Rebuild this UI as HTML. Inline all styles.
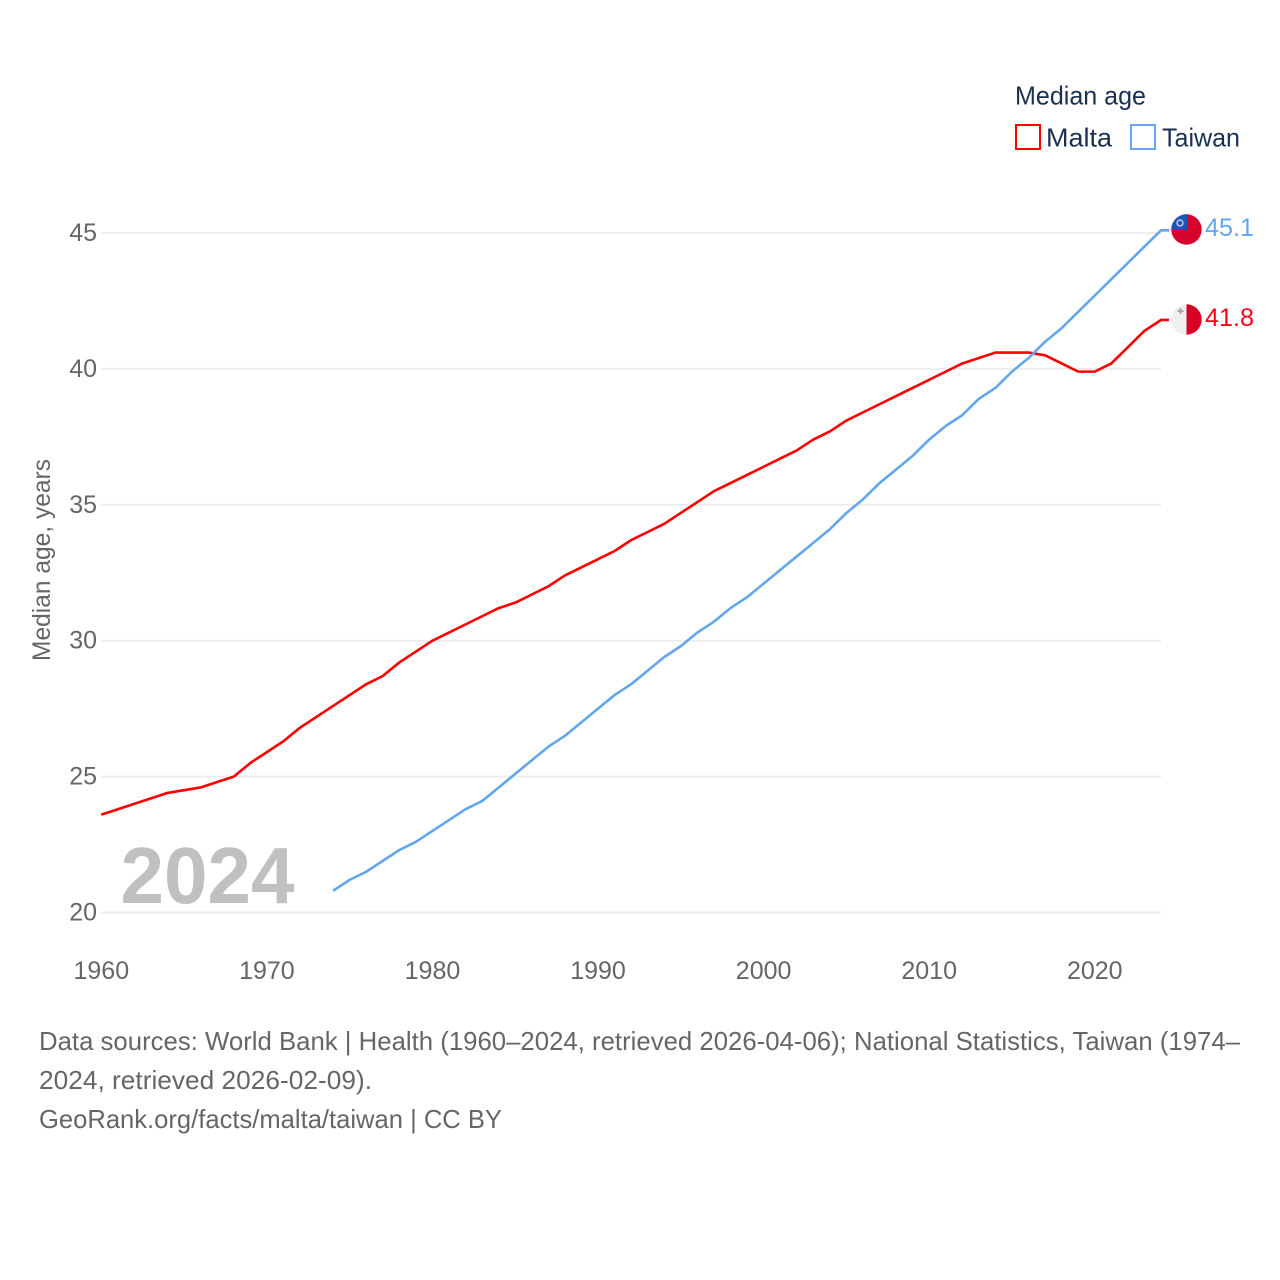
<!DOCTYPE html>
<html lang="en">
<head>
<meta charset="utf-8">
<title>Median age: Malta and Taiwan</title>
<style>
html,body{margin:0;padding:0;background:#fff;}
svg{display:block;}
text{font-family:"Liberation Sans",sans-serif;}
</style>
</head>
<body>
<svg id="chart" xmlns="http://www.w3.org/2000/svg" width="1280" height="1280" viewBox="0 0 1280 1280">
  <rect x="0" y="0" width="1280" height="1280" fill="#fff"/>
  <g id="grid"></g>
  <g id="yticks"></g>
  <g id="xticks"></g>
  <text transform="translate(50,661) rotate(-90)" font-size="25" fill="#666" textLength="202" lengthAdjust="spacingAndGlyphs">Median age, years</text>
  <text x="120.5" y="903" font-size="80" font-weight="700" fill="#c0c0c0" textLength="174" lengthAdjust="spacingAndGlyphs">2024</text>
  <g id="series"></g>

  <defs>
    <clipPath id="clip-taiwan"><circle cx="1186.5" cy="229.5" r="15.2"/></clipPath>
    <clipPath id="clip-malta"><circle cx="1186.5" cy="319.5" r="15.2"/></clipPath>
  </defs>
  <g clip-path="url(#clip-taiwan)">
    <rect x="1171" y="214" width="31" height="31" fill="#d9042b"/>
    <rect x="1171" y="214" width="16" height="16" fill="#1c55b5"/>
    <circle cx="1180" cy="223" r="3" fill="none" stroke="#dfe8f6" stroke-width="1.2"/>
  </g>
  <g clip-path="url(#clip-malta)">
    <rect x="1171" y="304" width="15.5" height="31" fill="#efefef"/>
    <rect x="1186.5" y="304" width="15.5" height="31" fill="#d80027"/>
    <path d="M1180.5 308v6M1177.5 311h6" stroke="#a8a8a8" stroke-width="2" fill="none"/>
  </g>
  <text x="1205" y="236" font-size="25" fill="#63a6ee" textLength="49" lengthAdjust="spacingAndGlyphs">45.1</text>
  <text x="1205" y="326" font-size="25" fill="#ff0019" textLength="49" lengthAdjust="spacingAndGlyphs">41.8</text>

  <text x="1015" y="104.5" font-size="26" fill="#1a3052" textLength="131" lengthAdjust="spacingAndGlyphs">Median age</text>
  <g>
    <rect x="1016" y="125" width="24" height="24" fill="none" stroke="#ff0000" stroke-width="2"/>
    <text x="1046" y="146.5" font-size="26" fill="#1a3052" textLength="66" lengthAdjust="spacingAndGlyphs">Malta</text>
  </g>
  <g>
    <rect x="1131" y="125" width="24" height="24" fill="none" stroke="#63a6ee" stroke-width="2"/>
    <text x="1162" y="146.5" font-size="26" fill="#1a3052" textLength="78" lengthAdjust="spacingAndGlyphs">Taiwan</text>
  </g>

  <g font-size="26" fill="#666">
    <text x="39" y="1050" textLength="1201" lengthAdjust="spacingAndGlyphs">Data sources: World Bank | Health (1960–2024, retrieved 2026-04-06); National Statistics, Taiwan (1974–</text>
    <text x="39" y="1089" textLength="333" lengthAdjust="spacingAndGlyphs">2024, retrieved 2026-02-09).</text>
    <text x="39" y="1128" textLength="463" lengthAdjust="spacingAndGlyphs">GeoRank.org/facts/malta/taiwan | CC BY</text>
  </g>
</svg>
<script>
const maltaStartYear = 1960;
const maltaValues = [23.6,23.8,24.0,24.2,24.4,24.5,24.6,24.8,25.0,25.5,25.9,26.3,26.8,27.2,27.6,28.0,28.4,28.7,29.2,29.6,30.0,30.3,30.6,30.9,31.2,31.4,31.7,32.0,32.4,32.7,33.0,33.3,33.7,34.0,34.3,34.7,35.1,35.5,35.8,36.1,36.4,36.7,37.0,37.4,37.7,38.1,38.4,38.7,39.0,39.3,39.6,39.9,40.2,40.4,40.6,40.6,40.6,40.5,40.2,39.9,39.9,40.2,40.8,41.4,41.8];
const taiwanStartYear = 1974;
const taiwanValues = [20.8,21.2,21.5,21.9,22.3,22.6,23.0,23.4,23.8,24.1,24.6,25.1,25.6,26.1,26.5,27.0,27.5,28.0,28.4,28.9,29.4,29.8,30.3,30.7,31.2,31.6,32.1,32.6,33.1,33.6,34.1,34.7,35.2,35.8,36.3,36.8,37.4,37.9,38.3,38.9,39.3,39.9,40.4,41.0,41.5,42.1,42.7,43.3,43.9,44.5,45.1];
const yTickValues = [20,25,30,35,40,45];
const xTickYears = [1960,1970,1980,1990,2000,2010,2020];

const NS = 'http://www.w3.org/2000/svg';
function xScale(year){ return 101.3 + (year - 1960) * (1161 - 101.3) / 64; }
function yScale(v){ return 912.5 - (v - 20) * (912.5 - 233) / 25; }

const grid = document.getElementById('grid');
const yticks = document.getElementById('yticks');
const xticks = document.getElementById('xticks');
const seriesGroup = document.getElementById('series');

yTickValues.forEach(function(v){
  const line = document.createElementNS(NS, 'line');
  
  
  line.setAttribute('x1', xScale(1960));
  line.setAttribute('x2', xScale(2024));
  line.setAttribute('y1', yScale(v));
  line.setAttribute('y2', yScale(v));
  line.setAttribute('stroke', '#ededed');
  line.setAttribute('stroke-width', '2');
  grid.appendChild(line);

  const label = document.createElementNS(NS, 'text');
  
  
  label.setAttribute('x', 97);
  label.setAttribute('y', yScale(v) + 8);
  label.setAttribute('text-anchor', 'end');
  label.setAttribute('font-size', '25');
  label.setAttribute('fill', '#666');
  label.textContent = v;
  yticks.appendChild(label);
});

xTickYears.forEach(function(year){
  const label = document.createElementNS(NS, 'text');
  
  
  label.setAttribute('x', xScale(year));
  label.setAttribute('y', 979);
  label.setAttribute('text-anchor', 'middle');
  label.setAttribute('font-size', '25');
  label.setAttribute('fill', '#666');
  label.textContent = year;
  xticks.appendChild(label);
});

function pathFor(startYear, values){
  const pts = values.map(function(v, i){
    return xScale(startYear + i).toFixed(2) + ',' + yScale(v).toFixed(2);
  });
  const last = values[values.length - 1];
  pts.push((xScale(startYear + values.length - 1) + 8).toFixed(2) + ',' + yScale(last).toFixed(2));
  return 'M' + pts.join('L');
}

const maltaLine = document.createElementNS(NS, 'path');


maltaLine.setAttribute('d', pathFor(maltaStartYear, maltaValues));
maltaLine.setAttribute('fill', 'none');
maltaLine.setAttribute('stroke', '#ff0000');
maltaLine.setAttribute('stroke-width', '2.6');
maltaLine.setAttribute('stroke-linejoin', 'round');
seriesGroup.appendChild(maltaLine);

const taiwanLine = document.createElementNS(NS, 'path');


taiwanLine.setAttribute('d', pathFor(taiwanStartYear, taiwanValues));
taiwanLine.setAttribute('fill', 'none');
taiwanLine.setAttribute('stroke', '#63a6ee');
taiwanLine.setAttribute('stroke-width', '2.6');
taiwanLine.setAttribute('stroke-linejoin', 'round');
seriesGroup.appendChild(taiwanLine);
</script>
</body>
</html>
